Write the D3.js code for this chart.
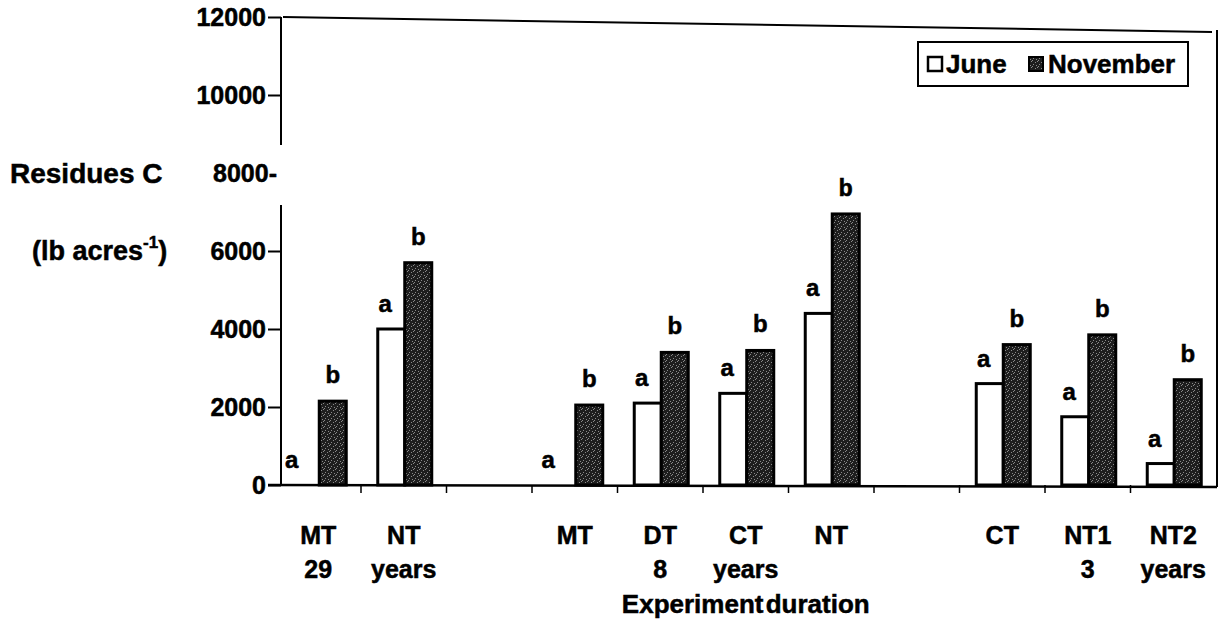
<!DOCTYPE html>
<html>
<head>
<meta charset="utf-8">
<script src="https://cdn.jsdelivr.net/npm/d3@7"></script>
<style>
  html, body { margin: 0; padding: 0; background: #fff; }
  svg text { font-family: "Liberation Sans", Arial, sans-serif; font-weight: bold; fill: #000;
             stroke: #000; stroke-width: 0.5px; }
</style>
</head>
<body>
<svg id="chart" width="1220" height="626"></svg>
<script>
// ---- data ----
const categories = ["MT", "NT", "", "MT", "DT", "CT", "NT", "", "CT", "NT1", "NT2"];
const subLabels  = ["29", "years", "", "", "8", "years", "", "", "", "3", "years"];
const june       = [0, 4000, null, 0, 2100, 2350, 4400, null, 2600, 1750, 550];
const november   = [2150, 5700, null, 2050, 3400, 3450, 6950, null, 3600, 3850, 2700];
const juneLetters = ["a", "a", "", "a", "a", "a", "a", "", "a", "a", "a"];
const novLetters  = ["b", "b", "", "b", "b", "b", "b", "", "b", "b", "b"];
const yTicks = [0, 2000, 4000, 6000, 8000, 10000, 12000];
const seriesNames = ["June", "November"];
const xTitle = "Experiment duration";

const svg = d3.select("#chart");
svg.append("rect").attr("width", 1220).attr("height", 626).attr("fill", "#fff");

// pattern for dark bars
const defs = svg.append("defs");
const pat = defs.append("pattern").attr("id", "stip").attr("patternUnits", "userSpaceOnUse")
  .attr("width", 6).attr("height", 6);
pat.append("rect").attr("width", 6).attr("height", 6).attr("fill", "#1e1e1e");
[[0,0],[3,2],[1,4],[5,1],[4,5]].forEach(p => pat.append("rect").attr("x", p[0]).attr("y", p[1])
  .attr("width", 1).attr("height", 1).attr("fill", "#8a8a8a"));

const slots = d3.range(categories.length);
const x = d3.scaleBand().domain(slots).range([275.5, 1216]).paddingInner(0).paddingOuter(0);
const y = d3.scaleLinear().domain([0, 12000]).range([485, 17]);
const sub = d3.scaleBand().domain(seriesNames).range([-26, 28]);
const cx = i => x(i) + x.bandwidth() / 2;

// frame (top and right edges)
svg.append("line").attr("x1", 283).attr("y1", y(12000)).attr("x2", 1212).attr("y2", y(12000) + 15)
  .attr("stroke", "#000").attr("stroke-width", 2);
svg.append("line").attr("x1", 1217).attr("y1", 30).attr("x2", 1217).attr("y2", y(0) + 2)
  .attr("stroke", "#000").attr("stroke-width", 2);

// y axis (with the break around the 8000 label)
const axisX = 281;
svg.append("line").attr("x1", axisX).attr("x2", axisX).attr("y1", y(12000)).attr("y2", y(8000) - 28)
  .attr("stroke", "#000").attr("stroke-width", 2);
svg.append("line").attr("x1", axisX).attr("x2", axisX).attr("y1", y(8000) + 32).attr("y2", y(0))
  .attr("stroke", "#000").attr("stroke-width", 2);
const yAxis = d3.axisLeft(y).tickValues(yTicks.filter(v => v !== 8000)).tickSize(13).tickFormat(d3.format("d"));
const yg = svg.append("g").attr("transform", `translate(${axisX},0)`).call(yAxis);
yg.select(".domain").remove();
yg.selectAll(".tick line").attr("stroke", "#000").attr("stroke-width", 2);
yg.selectAll(".tick text").attr("x", -15).attr("font-size", 25).attr("font-family", null)
  .attr("dy", "0.35em");
svg.append("text").attr("x", 277).attr("y", y(8000)).attr("dy", "0.35em")
  .attr("text-anchor", "end").attr("font-size", 25).text(d3.format("d")(8000) + "-");

// y title
svg.append("text").attr("x", 10).attr("y", y(8000)).attr("dy", "0.35em").attr("font-size", 28)
  .text("Residues C");
const t2 = svg.append("text").attr("x", 32).attr("y", y(6000)).attr("dy", "0.35em").attr("font-size", 27);
t2.append("tspan").text("(lb acres");
t2.append("tspan").attr("font-size", 17).attr("dy", "-0.75em").text("-1");
t2.append("tspan").attr("dy", "0.47em").text(")");

// x axis baseline + ticks
svg.append("line").attr("x1", 268).attr("x2", 1217).attr("y1", y(0)).attr("y2", y(0) + 2)
  .attr("stroke", "#000").attr("stroke-width", 2.5);
slots.slice(1).forEach(i => {
  svg.append("line").attr("x1", x(i)).attr("x2", x(i)).attr("y1", y(0)).attr("y2", y(0) + 8)
    .attr("stroke", "#000").attr("stroke-width", 1.5);
});

// bars
const juneData = slots.filter(i => june[i] !== null && june[i] > 0);
svg.append("g").selectAll("rect").data(juneData).join("rect")
  .attr("x", i => cx(i) + sub("June")).attr("width", sub.bandwidth())
  .attr("y", i => y(june[i])).attr("height", i => y(0) - y(june[i]))
  .attr("fill", "#fff").attr("stroke", "#000").attr("stroke-width", 3);
const novData = slots.filter(i => november[i] !== null);
svg.append("g").selectAll("rect").data(novData).join("rect")
  .attr("x", i => cx(i) + sub("November")).attr("width", sub.bandwidth())
  .attr("y", i => y(november[i])).attr("height", i => y(0) - y(november[i]))
  .attr("fill", "url(#stip)").attr("stroke", "#000").attr("stroke-width", 3);

// letters
svg.append("g").selectAll("text").data(slots.filter(i => juneLetters[i])).join("text")
  .attr("x", i => cx(i) + sub("June") + sub.bandwidth() / 2 - (june[i] > 0 ? 6 : 14))
  .attr("y", i => y(june[i]) - 17)
  .attr("text-anchor", "middle").attr("font-size", 24).text(i => juneLetters[i]);
svg.append("g").selectAll("text").data(slots.filter(i => novLetters[i])).join("text")
  .attr("x", i => cx(i) + sub("November") + sub.bandwidth() / 2)
  .attr("y", i => y(november[i]) - 18)
  .attr("text-anchor", "middle").attr("font-size", 24)
  .style("font-family", i => i === 6 ? "'Liberation Mono', 'Courier New', monospace" : null)
  .text(i => novLetters[i]);

// x labels
svg.append("g").selectAll("text").data(slots).join("text")
  .attr("x", i => cx(i)).attr("y", 535).attr("dy", "0.35em").attr("text-anchor", "middle")
  .attr("font-size", 25).text(i => categories[i]);
svg.append("g").selectAll("text").data(slots).join("text")
  .attr("x", i => cx(i)).attr("y", 569).attr("dy", "0.35em").attr("text-anchor", "middle")
  .attr("font-size", 25).text(i => subLabels[i]);
svg.append("text").attr("x", cx(5)).attr("y", 604).attr("dy", "0.35em").attr("text-anchor", "middle")
  .attr("font-size", 26).attr("word-spacing", -5).text(xTitle);

// legend
const lg = svg.append("g");
lg.append("rect").attr("x", 918).attr("y", 42).attr("width", 270).attr("height", 44)
  .attr("fill", "#fff").attr("stroke", "#000").attr("stroke-width", 2);
lg.append("rect").attr("x", 928).attr("y", 57).attr("width", 14).attr("height", 14)
  .attr("fill", "#fff").attr("stroke", "#000").attr("stroke-width", 2.5);
lg.append("text").attr("x", 946).attr("y", 64).attr("dy", "0.35em").attr("font-size", 26).text(seriesNames[0]);
lg.append("rect").attr("x", 1029).attr("y", 57).attr("width", 14).attr("height", 14)
  .attr("fill", "url(#stip)").attr("stroke", "#000").attr("stroke-width", 2);
lg.append("text").attr("x", 1048).attr("y", 64).attr("dy", "0.35em").attr("font-size", 26).text(seriesNames[1]);
</script>
</body>
</html>
